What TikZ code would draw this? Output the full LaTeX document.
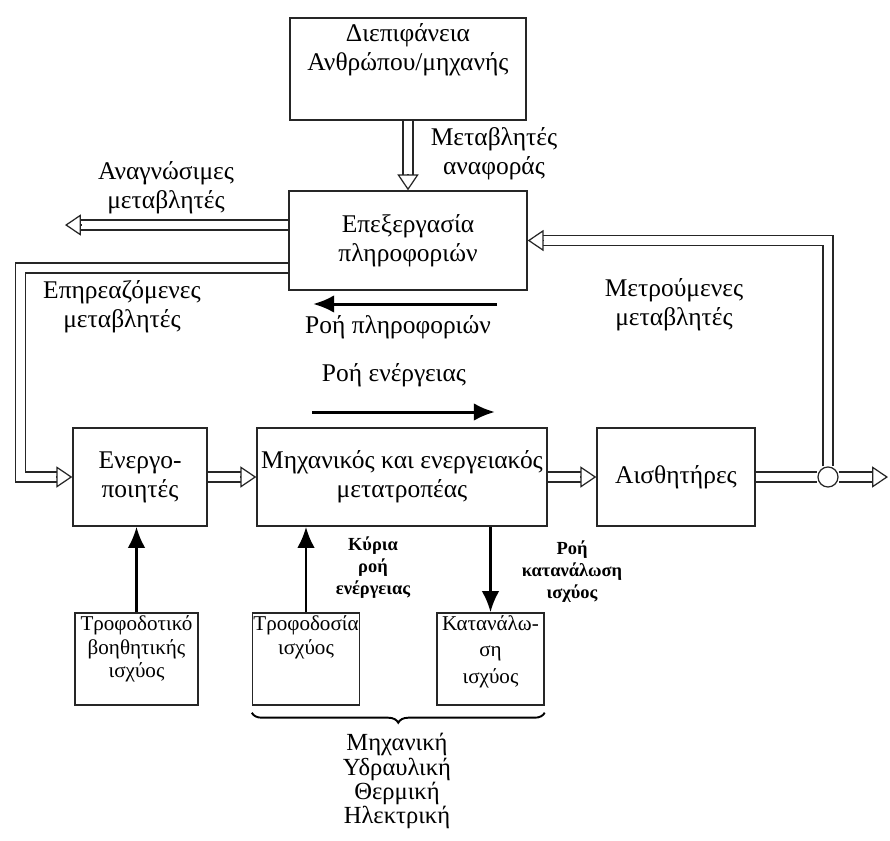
\documentclass[tikz,border=0pt]{standalone}
\usepackage{fontspec}
\setmainfont{Liberation Serif}
\usetikzlibrary{arrows.meta, positioning, decorations.pathreplacing}

\begin{document}
\begin{tikzpicture}[
    font=\fontsize{14.5}{16.5}\selectfont,
    block/.style={draw=black!85, line width=0.8pt, minimum height=1.96cm,
        align=center, inner xsep=1pt},
    smallbox/.style={draw=black!85, line width=0.8pt, minimum height=1.84cm,
        align=center, inner xsep=0.5pt, inner ysep=1pt, font=\fontsize{12}{13.5}\selectfont},
    lbl/.style={align=center},
    minor/.style={align=center, font=\fontsize{10.5}{12.5}\selectfont\bfseries},
    pipe/.style={draw=black!85, line width=0.7pt, double=white, double distance=5pt},
    hollow/.style={-{Triangle[open, length=9pt, width=12pt]}, draw=black!85, line width=0.7pt},
    flow/.style={-{Latex[length=12pt, width=10pt]}, line width=1.7pt}
]
\useasboundingbox[fill=white] (0,0) rectangle (17.8,-16.82);

% Blocks
\node[block, minimum width=4.72cm, minimum height=2.04cm] (hmi) at (8.16,-1.38) {Διεπιφάνεια\\Ανθρώπου/μηχανής\\[8pt]\mbox{}};
\node[block, minimum width=4.76cm, minimum height=1.98cm] (proc) at (8.16,-4.81) {Επεξεργασία\\πληροφοριών};
\node[block, minimum width=2.68cm] (act) at (2.80,-9.54) {Ενεργο-\\ποιητές};
\node[block, minimum width=5.80cm] (conv) at (8.04,-9.54) {Μηχανικός και ενεργειακός\\μετατροπέας};
\node[block, minimum width=3.16cm] (sens) at (13.52,-9.54) {Αισθητήρες};

% Power blocks
\node[smallbox, minimum width=2.46cm] (aux) at (2.73,-13.18) {Τροφοδοτικό\\βοηθητικής\\ισχύος\\[0.5pt]\mbox{}};
\node[smallbox, minimum width=2.12cm] (supply) at (6.12,-13.18) {Τροφοδοσία\\ισχύος\\[14pt]\mbox{}};
\node[smallbox, minimum width=2.14cm, font=\fontsize{12}{15}\selectfont] (cons) at (9.81,-13.18) {Κατανάλω-\\ση\\ισχύος\\[-4pt]\mbox{}};

% Junction and free ends
\node[circle, draw=black!85, line width=0.7pt, fill=white, minimum size=0.4cm, inner sep=0pt] (junc) at (16.56,-9.54) {};
\coordinate (sensout) at (17.76,-9.54);
\coordinate (readout) at (1.30,-4.50);
\coordinate (infoA) at (9.94,-6.08);
\coordinate (infoB) at (6.26,-6.08);
\coordinate (energyA) at (6.24,-8.24);
\coordinate (energyB) at (9.90,-8.24);

% Labels
\node[lbl] (refvars) at (9.88,-3.08) {Μεταβλητές\\αναφοράς};
\node[lbl] (readvars) at (3.32,-3.76) {Αναγνώσιμες\\μεταβλητές};
\node[lbl] (affvars) at (2.44,-6.14) {Επηρεαζόμενες\\μεταβλητές};
\node[lbl] (measvars) at (13.48,-6.10) {Μετρούμενες\\μεταβλητές};
\node[lbl] (infolbl) at (7.96,-6.54) {Ροή πληροφοριών};
\node[lbl] (energylbl) at (7.88,-7.50) {Ροή ενέργειας};
\node[minor] (mainlbl) at (7.46,-11.36) {Κύρια\\ροή\\ενέργειας};
\node[minor] (conslbl) at (11.44,-11.44) {Ροή\\κατανάλωση\\ισχύος};
\node[lbl, font=\fontsize{14}{13.7}\selectfont] (kinds) at (7.94,-15.62) {Μηχανική\\Υδραυλική\\Θερμική\\Ηλεκτρική};

% Signal pipes
\draw[pipe, shorten >=8.5pt] (hmi.south) -- (proc.north);
\draw[hollow] ([yshift=9pt]proc.north) -- (proc.north);
\draw[pipe, shorten >=8.5pt] ([yshift=0.31cm]proc.west) -- (readout);
\draw[hollow] ([xshift=9pt]readout) -- (readout);
\draw[pipe, shorten >=8.5pt] ([yshift=-0.55cm]proc.west) -- ++(-5.36,0) |- (act.west);
\draw[hollow] ([xshift=-9pt]act.west) -- (act.west);
\draw[pipe, shorten >=8.5pt] (act.east) -- (conv.west);
\draw[hollow] ([xshift=-9pt]conv.west) -- (conv.west);
\draw[pipe, shorten >=8.5pt] (conv.east) -- (sens.west);
\draw[hollow] ([xshift=-9pt]sens.west) -- (sens.west);
\draw[pipe] (sens.east) -- (junc.west);
\draw[pipe, shorten >=8.5pt] (junc.east) -- (sensout);
\draw[hollow] ([xshift=-9pt]sensout) -- (sensout);
\draw[pipe, shorten >=8.5pt] (junc.north) |- (proc.east);
\draw[hollow] ([xshift=9pt]proc.east) -- (proc.east);

% Flows
\draw[flow] (infoA) -- (infoB);
\draw[flow] (energyA) -- (energyB);
\draw[flow] (aux.north) -- (aux.north |- act.south);
\draw[flow] (supply.north) -- (supply.north |- conv.south);
\draw[flow] (cons.north |- conv.south) -- (cons.north);

% Energy kinds
\draw[decorate, decoration={brace, mirror, amplitude=0.2cm}, line width=1.1pt]
    ([yshift=-0.14cm]supply.south west) -- ([yshift=-0.14cm]cons.south east);

\end{tikzpicture}
\end{document}
